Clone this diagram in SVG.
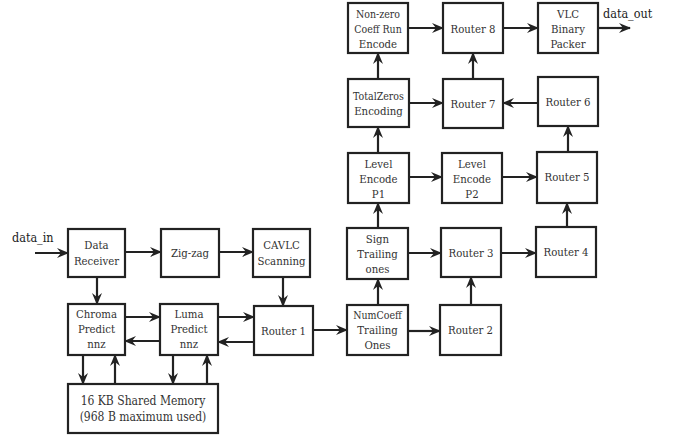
<svg xmlns="http://www.w3.org/2000/svg" width="678" height="437" viewBox="0 0 678 437">
  <style>
    .box { fill: #fff; stroke: #222; stroke-width: 2.2; }
    text { font-family: 'DejaVu Serif Condensed', 'DejaVu Serif', serif; font-stretch: condensed; }
    .lbl { font-size: 11.3px; fill: #333; text-anchor: middle; }
    .io { font-size: 12.5px; fill: #222; }
    .wire { stroke: #222; stroke-width: 2.2; fill: none; marker-end: url(#head); }
  </style>
  <defs>
    <marker id="head" viewBox="0 0 12 10" refX="11" refY="5" markerWidth="12" markerHeight="10" markerUnits="userSpaceOnUse" orient="auto">
      <path d="M0,0 L12,5 L0,10 L4,5 z" fill="#222"/>
    </marker>
  </defs>
  <rect width="678" height="437" fill="#fff"/>

  <!-- connectors -->
  <g id="connectors">
    <path class="wire" d="M35,253 H68"/>
    <path class="wire" d="M125,252 H161"/>
    <path class="wire" d="M219,252 H253"/>
    <path class="wire" d="M97,277 V304"/>
    <path class="wire" d="M283,277 V306"/>
    <path class="wire" d="M125,317 H160"/>
    <path class="wire" d="M160,341 H125"/>
    <path class="wire" d="M218,317 H254"/>
    <path class="wire" d="M254,342 H218"/>
    <path class="wire" d="M83,355 V384"/>
    <path class="wire" d="M115,384 V355"/>
    <path class="wire" d="M173,355 V384"/>
    <path class="wire" d="M207,384 V355"/>
    <path class="wire" d="M313,330 H347"/>
    <path class="wire" d="M408,331 H440"/>
    <path class="wire" d="M378,305 V279"/>
    <path class="wire" d="M471,305 V277"/>
    <path class="wire" d="M408,253 H441"/>
    <path class="wire" d="M501,253 H536"/>
    <path class="wire" d="M567,227 V203"/>
    <path class="wire" d="M378,228 V203"/>
    <path class="wire" d="M409,177 H442"/>
    <path class="wire" d="M502,177 H537"/>
    <path class="wire" d="M378,153 V127"/>
    <path class="wire" d="M568,152 V126"/>
    <path class="wire" d="M538,103 H503"/>
    <path class="wire" d="M409,103 H443"/>
    <path class="wire" d="M378,79 V53"/>
    <path class="wire" d="M473,79 V53"/>
    <path class="wire" d="M408,28 H443"/>
    <path class="wire" d="M503,28 H538"/>
    <path class="wire" d="M598,28 H630"/>
  </g>

  <text class="io" x="12" y="242">data_in</text>
  <text class="io" x="603" y="18">data_out</text>

  <g id="data-receiver">
    <rect class="box" x="68" y="229" width="57" height="48"/>
    <text class="lbl" x="96.5" y="249">Data</text>
    <text class="lbl" x="96.5" y="265">Receiver</text>
  </g>
  <g id="zig-zag">
    <rect class="box" x="161" y="229" width="58" height="48"/>
    <text class="lbl" x="190" y="257">Zig-zag</text>
  </g>
  <g id="cavlc-scanning">
    <rect class="box" x="253" y="229" width="57" height="48"/>
    <text class="lbl" x="281.5" y="249">CAVLC</text>
    <text class="lbl" x="281.5" y="265">Scanning</text>
  </g>
  <g id="chroma-predict">
    <rect class="box" x="68" y="304" width="57" height="51"/>
    <text class="lbl" x="96.5" y="318">Chroma</text>
    <text class="lbl" x="96.5" y="333">Predict</text>
    <text class="lbl" x="96.5" y="348">nnz</text>
  </g>
  <g id="luma-predict">
    <rect class="box" x="160" y="304" width="58" height="51"/>
    <text class="lbl" x="189" y="318">Luma</text>
    <text class="lbl" x="189" y="333">Predict</text>
    <text class="lbl" x="189" y="348">nnz</text>
  </g>
  <g id="router-1">
    <rect class="box" x="254" y="306" width="59" height="49"/>
    <text class="lbl" x="283.5" y="335">Router 1</text>
  </g>
  <g id="shared-memory">
    <rect class="box" x="68" y="384" width="150" height="49"/>
    <text class="lbl" x="143" y="405" style="font-size:12px">16 KB Shared Memory</text>
    <text class="lbl" x="143" y="421" style="font-size:12px">(968 B maximum used)</text>
  </g>
  <g id="numcoeff-trailing-ones">
    <rect class="box" x="347" y="305" width="61" height="50"/>
    <text class="lbl" x="377.5" y="319" style="font-size:10.5px">NumCoeff</text>
    <text class="lbl" x="377.5" y="334">Trailing</text>
    <text class="lbl" x="377.5" y="349">Ones</text>
  </g>
  <g id="router-2">
    <rect class="box" x="440" y="305" width="61" height="50"/>
    <text class="lbl" x="470.5" y="334">Router 2</text>
  </g>
  <g id="sign-trailing-ones">
    <rect class="box" x="347" y="228" width="61" height="51"/>
    <text class="lbl" x="377.5" y="243">Sign</text>
    <text class="lbl" x="377.5" y="258">Trailing</text>
    <text class="lbl" x="377.5" y="273">ones</text>
  </g>
  <g id="router-3">
    <rect class="box" x="441" y="228" width="60" height="49"/>
    <text class="lbl" x="471" y="257">Router 3</text>
  </g>
  <g id="router-4">
    <rect class="box" x="536" y="227" width="60" height="50"/>
    <text class="lbl" x="566" y="256">Router 4</text>
  </g>
  <g id="level-encode-p1">
    <rect class="box" x="348" y="153" width="61" height="50"/>
    <text class="lbl" x="378.5" y="168">Level</text>
    <text class="lbl" x="378.5" y="183">Encode</text>
    <text class="lbl" x="378.5" y="198">P1</text>
  </g>
  <g id="level-encode-p2">
    <rect class="box" x="442" y="153" width="60" height="50"/>
    <text class="lbl" x="472" y="168">Level</text>
    <text class="lbl" x="472" y="183">Encode</text>
    <text class="lbl" x="472" y="198">P2</text>
  </g>
  <g id="router-5">
    <rect class="box" x="537" y="152" width="60" height="51"/>
    <text class="lbl" x="567" y="181">Router 5</text>
  </g>
  <g id="totalzeros-encoding">
    <rect class="box" x="348" y="79" width="61" height="48"/>
    <text class="lbl" x="378.5" y="100" style="font-size:10.5px">TotalZeros</text>
    <text class="lbl" x="378.5" y="115">Encoding</text>
  </g>
  <g id="router-7">
    <rect class="box" x="443" y="79" width="60" height="49"/>
    <text class="lbl" x="473" y="108">Router 7</text>
  </g>
  <g id="router-6">
    <rect class="box" x="538" y="77" width="60" height="49"/>
    <text class="lbl" x="568" y="106">Router 6</text>
  </g>
  <g id="non-zero-coeff-run-encode">
    <rect class="box" x="348" y="3" width="60" height="50"/>
    <text class="lbl" x="378" y="18" style="font-size:10.5px">Non-zero</text>
    <text class="lbl" x="378" y="33" style="font-size:10.5px">Coeff Run</text>
    <text class="lbl" x="378" y="48">Encode</text>
  </g>
  <g id="router-8">
    <rect class="box" x="443" y="3" width="60" height="50"/>
    <text class="lbl" x="473" y="33">Router 8</text>
  </g>
  <g id="vlc-binary-packer">
    <rect class="box" x="538" y="3" width="60" height="50"/>
    <text class="lbl" x="568" y="18">VLC</text>
    <text class="lbl" x="568" y="33">Binary</text>
    <text class="lbl" x="568" y="48">Packer</text>
  </g>
</svg>
